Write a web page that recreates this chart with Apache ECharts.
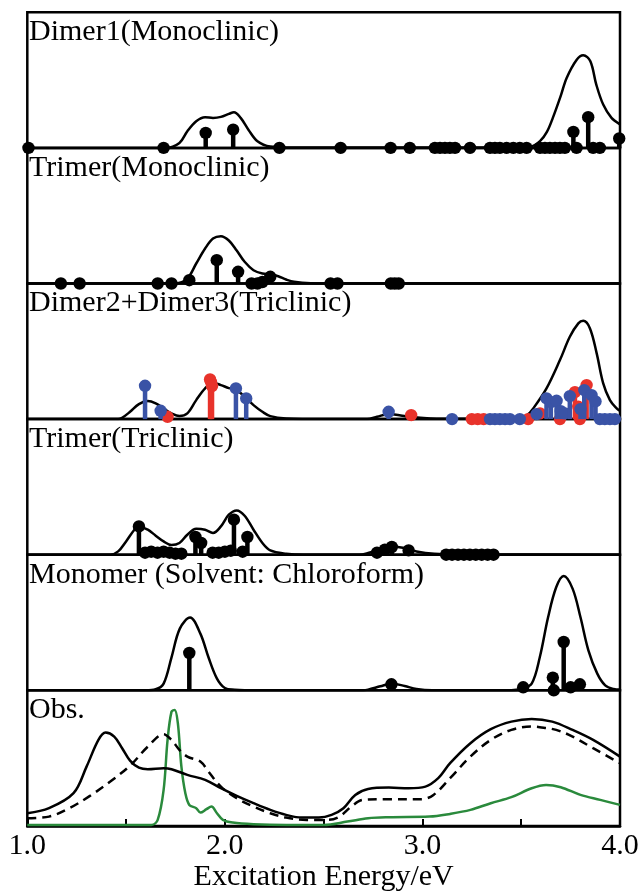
<!DOCTYPE html>
<html>
<head>
<meta charset="utf-8">
<script src="https://cdn.jsdelivr.net/npm/echarts@6/dist/echarts.min.js"></script>
<style>
  html, body { margin: 0; padding: 0; background: #fff; }
  #chart { width: 642px; height: 891px; }
</style>
</head>
<body>
<div id="chart"></div>
<script>
// Energies in eV; intensities in arbitrary units (each panel spans 0 .. 135.6).

// ---- Dimer1 (Monoclinic) ----
const dimer1Curve = [[1.0,0],[1.70,0],[1.77,5],[1.81,16.7],[1.855,26.7],[1.90,30.7],[1.94,30],[1.98,31],[2.02,34],[2.046,35.7],[2.08,30],[2.12,18],[2.165,6.7],[2.23,1.3],[2.31,0.5],[2.5,0.3],[3.0,0.3],[3.30,0.5],[3.45,1],[3.55,1.5],[3.595,6.7],[3.63,16],[3.66,30],[3.70,52],[3.73,70],[3.78,88],[3.814,92.7],[3.85,86.7],[3.88,63.3],[3.915,43.3],[3.957,30],[4.0,23.3]];
const dimer1Sticks = [[1.006,0],[1.69,0],[1.903,15],[2.042,18.3],[2.276,0],[2.586,0],[2.839,0],[2.936,0],[3.063,0],[3.089,0],[3.114,0],[3.139,0],[3.165,0],[3.241,0],[3.342,0],[3.367,0],[3.392,0],[3.426,0],[3.46,0],[3.493,0],[3.527,0],[3.595,0],[3.62,0],[3.645,0],[3.671,0],[3.696,0],[3.721,0],[3.764,16],[3.78,0],[3.839,30.7],[3.864,0],[3.898,0],[3.996,9.4]];

// ---- Trimer (Monoclinic) ----
const trimerMonoCurve = [[1.0,0],[1.75,0],[1.81,5],[1.855,20],[1.90,35],[1.94,45],[1.98,47.3],[2.02,43],[2.06,33],[2.10,21.7],[2.145,13.3],[2.19,10],[2.23,9.3],[2.27,7.3],[2.31,4],[2.35,1.7],[2.435,0.3],[2.6,0],[4.0,0]];
const trimerMonoSticks = [[1.17,0],[1.265,0],[1.66,0],[1.73,0],[1.82,3.3],[1.959,23.3],[2.067,11.7],[2.135,0],[2.165,0],[2.19,1.5],[2.23,6.7],[2.535,0],[2.57,0],[2.84,0],[2.86,0],[2.88,0]];

// ---- Dimer2 + Dimer3 (Triclinic) ----
const dimer23Curve = [[1.0,0],[1.46,0],[1.48,1.3],[1.52,7.3],[1.565,15],[1.61,18],[1.65,15.7],[1.69,10.7],[1.73,5.7],[1.77,3],[1.81,5.7],[1.855,19],[1.90,30.7],[1.94,36.3],[1.98,34],[2.02,31],[2.06,29],[2.10,22.3],[2.145,14],[2.19,7.3],[2.23,3],[2.31,0.7],[2.5,0],[2.72,0],[2.77,2.3],[2.83,5],[2.89,3.7],[2.93,2.3],[3.04,0.7],[3.2,0.3],[3.49,1],[3.53,4],[3.561,10.7],[3.628,30.7],[3.696,59],[3.746,82.3],[3.789,95.7],[3.814,98.3],[3.848,90.7],[3.882,65.7],[3.915,35.7],[3.949,19],[3.983,10.7],[4.0,8.3]];
const dimer2Sticks = [[1.71,2.3],[1.925,39.7],[1.93,37],[1.935,33],[2.943,4],[3.25,0],[3.28,0],[3.31,0],[3.535,0],[3.595,5.7],[3.696,0],[3.772,27],[3.789,12.3],[3.797,0],[3.831,34]];
const dimer3Sticks = [[1.596,33.3],[1.675,8.3],[2.056,30.7],[2.108,20.7],[2.829,7.3],[3.15,0],[3.342,0],[3.367,0],[3.392,0],[3.418,0],[3.443,0],[3.493,0],[3.578,5],[3.628,20.7],[3.65,17],[3.679,18.3],[3.70,8],[3.721,5.7],[3.746,23],[3.80,10],[3.819,29],[3.856,24],[3.876,17.7],[3.898,0],[3.923,0],[3.949,0],[3.974,0]];

// ---- Trimer (Triclinic) ----
const trimerTriCurve = [[1.0,0],[1.42,0],[1.46,3.3],[1.50,13.3],[1.545,25.7],[1.565,28.3],[1.61,25],[1.65,19],[1.69,13.3],[1.73,9.7],[1.77,11.7],[1.81,20],[1.855,26],[1.90,25],[1.94,21.7],[1.98,28.3],[2.02,40],[2.06,44.3],[2.10,39],[2.145,25],[2.19,11.7],[2.23,4.3],[2.31,1],[2.4,0],[2.68,0],[2.725,1.7],[2.79,5.7],[2.85,8.3],[2.91,6.7],[2.97,3.3],[3.06,1],[3.2,0.3],[4.0,0]];
const trimerTriSticks = [[1.565,28.3],[1.596,2],[1.627,3],[1.659,2],[1.69,3],[1.72,2],[1.75,1],[1.78,1],[1.851,17.7],[1.88,11.7],[1.938,2],[1.969,2],[2.0,3],[2.03,4],[2.046,35],[2.09,3],[2.114,17.7],[2.77,2],[2.81,5],[2.845,7.7],[2.93,4.3],[3.12,0],[3.15,0],[3.18,0],[3.21,0],[3.24,0],[3.27,0],[3.30,0],[3.33,0],[3.36,0]];

// ---- Monomer (solvent: chloroform) ----
const monoCurve = [[1.0,0],[1.60,0],[1.65,1],[1.69,6.7],[1.73,33],[1.772,61.7],[1.824,72.7],[1.876,56.7],[1.917,33],[1.96,11.7],[2.0,2.3],[2.05,0.5],[2.1,0],[2.70,0],[2.725,0.7],[2.787,4],[2.843,6.7],[2.91,4.3],[2.97,1.3],[3.05,0],[3.45,0],[3.50,1.5],[3.553,6.7],[3.594,33],[3.636,73],[3.677,103],[3.715,114.3],[3.76,101.7],[3.80,73],[3.84,40],[3.885,16.7],[3.925,5],[3.967,1.3],[4.0,0.7]];
const monoSticks = [[1.82,37.3],[2.843,6],[3.51,3],[3.66,12.7],[3.665,0],[3.715,48.3],[3.75,3],[3.797,6]];

// ---- Observed spectra ----
const obsSolid = [[1.0,12.7],[1.11,17.7],[1.234,32.7],[1.30,59.3],[1.36,86],[1.396,93.3],[1.44,89.3],[1.48,77.7],[1.52,65.3],[1.565,58.3],[1.61,56.7],[1.69,57.7],[1.73,56.7],[1.81,51],[1.90,46],[1.98,37.7],[2.06,30],[2.145,22.7],[2.23,16],[2.31,11],[2.39,8.3],[2.476,8.3],[2.54,11],[2.60,17.7],[2.66,31],[2.725,37],[2.83,38.3],[2.93,37.7],[3.015,39.3],[3.08,47.7],[3.14,62.7],[3.243,82.7],[3.346,96.7],[3.45,104.3],[3.553,107],[3.657,104.3],[3.76,96],[3.864,86],[4.0,69.3]];
const obsDashed = [[1.0,7.7],[1.11,9.3],[1.213,17.7],[1.317,30],[1.42,44.3],[1.524,61],[1.61,79.3],[1.69,91.7],[1.73,86],[1.77,76],[1.81,69.3],[1.876,64.3],[1.917,54.3],[1.98,39.3],[2.06,27.7],[2.145,19.3],[2.23,12.7],[2.31,8.3],[2.414,6],[2.52,6],[2.58,9.3],[2.64,19.3],[2.70,26],[2.83,26.7],[2.994,26.7],[3.056,31],[3.14,47.7],[3.243,69.3],[3.346,86],[3.45,96],[3.553,99.3],[3.594,98.7],[3.677,96],[3.76,89.3],[3.864,77.7],[4.0,62.7]];
const obsGreen = [[1.0,1],[1.628,1],[1.66,6],[1.69,36],[1.71,86],[1.73,114.3],[1.746,116],[1.762,102.7],[1.78,59.3],[1.80,32.7],[1.82,21],[1.855,17.7],[1.876,13.3],[1.907,16.7],[1.932,19.3],[1.96,12.7],[1.99,6],[2.04,3.3],[2.145,1.7],[2.31,1],[2.50,1],[2.62,4.3],[2.725,7.7],[2.83,8.7],[3.036,9.3],[3.14,12],[3.243,16],[3.346,22.7],[3.45,28.7],[3.553,37.7],[3.626,41],[3.70,38.7],[3.80,31],[3.90,26],[4.0,21]];

const panelLabels = ['Dimer1(Monoclinic)', 'Trimer(Monoclinic)', 'Dimer2+Dimer3(Triclinic)', 'Trimer(Triclinic)', 'Monomer (Solvent: Chloroform)', 'Obs.'];
const xTicks = [1.0, 2.0, 3.0, 4.0];
const xTitle = 'Excitation Energy/eV';

// ---- layout ----
const SERIF = '"Liberation Serif", "Times New Roman", serif';
const PLOT_LEFT = 27.3, PLOT_WIDTH = 592.7, PLOT_TOP = 12.3, PANEL_H = 135.6, Y_MAX = 135.6;
const BLACK = '#000', RED = '#e8332b', BLUE = '#3a53a6', GREEN = '#2a8a3c';

const grids = [], xAxes = [], yAxes = [], series = [], graphics = [];
for (let i = 0; i < 6; i++) {
  grids.push({ left: PLOT_LEFT, width: PLOT_WIDTH, top: PLOT_TOP + i * PANEL_H, height: PANEL_H,
    outerBoundsMode: 'none', containLabel: false,
    show: true, borderColor: BLACK, borderWidth: 2.5, backgroundColor: 'transparent' });
  const last = i === 5;
  xAxes.push({
    gridIndex: i, type: 'value', min: 1, max: 4, interval: 0.5,
    show: true,
    axisLine: { show: last, lineStyle: { color: BLACK, width: 2.5 } },
    axisTick: { show: last, inside: true, length: 7, lineStyle: { color: BLACK, width: 2 } },
    splitLine: { show: false },
    axisLabel: { show: last, color: BLACK, fontFamily: SERIF, fontSize: 30, margin: 5,
      formatter: v => xTicks.some(t => Math.abs(t - v) < 1e-6) ? v.toFixed(1) : '' },
    name: last ? xTitle : '', nameLocation: 'middle', nameGap: 34,
    nameTextStyle: { color: BLACK, fontFamily: SERIF, fontSize: 30, verticalAlign: 'top' }
  });
  yAxes.push({ gridIndex: i, type: 'value', min: 0, max: Y_MAX, show: false });
  graphics.push({ type: 'text', left: 29, top: PLOT_TOP + i * PANEL_H + 5, z: 100,
    style: { text: panelLabels[i], font: '30px ' + SERIF, fill: BLACK } });
}

function curve(i, data, color, dashed) {
  return { type: 'line', xAxisIndex: i, yAxisIndex: i, data, smooth: 0.35, symbol: 'none', z: 3,
    lineStyle: { color, width: 2.5, type: dashed ? [9, 6] : 'solid' } };
}
function sticks(i, data, color, z) {
  return { type: 'custom', xAxisIndex: i, yAxisIndex: i, data, clip: false, z: z || 5,
    renderItem: (params, api) => {
      const x = api.value(0), h = api.value(1);
      const p0 = api.coord([x, 0]), p1 = api.coord([x, h]);
      const children = [];
      if (h > 0.5) children.push({ type: 'line', shape: { x1: p0[0], y1: p0[1], x2: p1[0], y2: p1[1] },
        style: { stroke: color, lineWidth: 4.5 } });
      children.push({ type: 'circle', shape: { cx: p1[0], cy: p1[1], r: 6.2 }, style: { fill: color } });
      return { type: 'group', children };
    } };
}

series.push(curve(0, dimer1Curve, BLACK), sticks(0, dimer1Sticks, BLACK));
series.push(curve(1, trimerMonoCurve, BLACK), sticks(1, trimerMonoSticks, BLACK));
series.push(curve(2, dimer23Curve, BLACK), sticks(2, dimer2Sticks, RED, 5), sticks(2, dimer3Sticks, BLUE, 6));
series.push(curve(3, trimerTriCurve, BLACK), sticks(3, trimerTriSticks, BLACK));
series.push(curve(4, monoCurve, BLACK), sticks(4, monoSticks, BLACK));
series.push(curve(5, obsGreen, GREEN), curve(5, obsDashed, BLACK, true), curve(5, obsSolid, BLACK));

const chart = echarts.init(document.getElementById('chart'), null, { renderer: 'canvas' });
chart.setOption({
  animation: false,
  backgroundColor: '#fff',
  grid: grids, xAxis: xAxes, yAxis: yAxes, series, graphic: graphics
});
</script>
</body>
</html>
